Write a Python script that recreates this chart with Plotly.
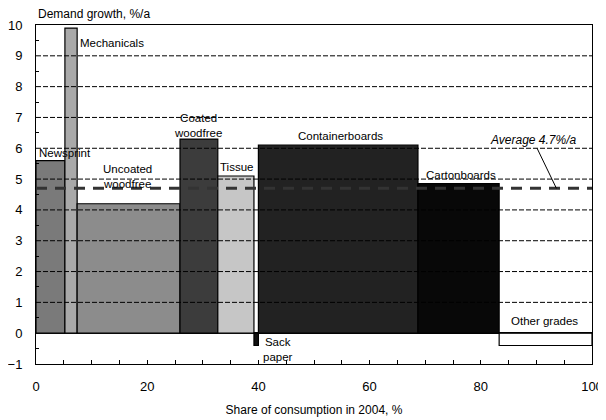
import numpy as np
import plotly.graph_objects as go

# paper & board grades: share of consumption 2004 (%) and demand growth (%/a)
grades = ['Newsprint', 'Mechanicals', 'Uncoated woodfree', 'Coated woodfree', 'Tissue',
          'Sack paper', 'Containerboards', 'Cartonboards', 'Other grades']
share = [5.2, 2.2, 18.5, 6.8, 6.5, 0.8, 28.7, 14.6, 16.7]
growth = [5.6, 9.9, 4.2, 6.3, 5.1, -0.4, 6.1, 4.85, -0.4]
average = 4.7
grid_vals = [1, 2, 3, 4, 5, 6, 7, 8, 9]
colors = ['#7a7a7a', '#a9a9a9', '#8c8c8c', '#3c3c3c', '#c6c6c6',
          '#111111', '#222222', '#080808', '#ffffff']

share_arr = np.array(share)
left = np.cumsum(share_arr) - share_arr
mid = left + share_arr / 2

font = dict(family='Liberation Sans, Arial, sans-serif', color='black')

fig = go.Figure()
fig.add_trace(go.Bar(x=mid, y=growth, width=share, marker=dict(color=colors, line=dict(color='black', width=1.2)),
                     hoverinfo='skip', showlegend=False))

# dashed grid lines drawn over the bars
shapes = [dict(type='line', xref='paper', x0=0, x1=1, yref='y', y0=g, y1=g, layer='above',
               line=dict(color='black', width=1, dash='5px,2px')) for g in grid_vals]
# average line
shapes.append(dict(type='line', xref='paper', x0=0, x1=1, yref='y', y0=average, y1=average, layer='above',
                   line=dict(color='#333333', width=3, dash='11px,8px')))

labels = [
    ('Newsprint', 0.2, 5.85, 'left'),
    ('Mechanicals', 7.5, 9.42, 'left'),
    ('Uncoated<br>woodfree', 16.4, 5.08, 'center'),
    ('Coated<br>woodfree', 29.1, 6.75, 'center'),
    ('Tissue', 36.0, 5.39, 'center'),
    ('Sack<br>paper', 40.4, -0.52, 'left'),
    ('Containerboards', 54.7, 6.4, 'center'),
    ('Cartonboards', 76.4, 5.13, 'center'),
    ('Other grades', 91.5, 0.39, 'center'),
]
annotations = [dict(text=t, x=x, y=y, xref='x', yref='y', xanchor=a, yanchor='middle', showarrow=False,
                    font=dict(size=11.5, **font), align='center') for t, x, y, a in labels]
annotations.append(dict(text='<i>Average 4.7%/a</i>', x=93.6, y=average, ax=89.4, ay=6.27, xref='x', yref='y',
                        axref='x', ayref='y', showarrow=True, arrowhead=0, arrowwidth=1, arrowcolor='black',
                        font=dict(size=12, **font)))
annotations.append(dict(text='Demand growth, %/a', x=0, y=1, xref='paper', yref='paper', xanchor='left',
                        yanchor='bottom', showarrow=False, yshift=2, font=dict(size=12, **font)))

# page body has an 8px margin, so the figure is drawn 8px smaller to fit the window
fig.update_layout(
    width=598, height=412,
    margin=dict(l=28, r=14, t=17, b=56, autoexpand=False),
    plot_bgcolor='white', paper_bgcolor='white',
    shapes=shapes, annotations=annotations,
    font=dict(size=13, **font),
    xaxis=dict(range=[0, 100], tickvals=[0, 20, 40, 60, 80, 100], ticks='inside', ticklen=4, tickcolor='black',
               minor=dict(dtick=5, tick0=0, ticks='inside', ticklen=4, tickcolor='black'),
               showgrid=False, zeroline=False, showline=True, linecolor='black', linewidth=1, mirror=True,
               ticklabelstandoff=10, automargin=False,
               title=dict(text='Share of consumption in 2004, %', font=dict(size=12, **font), standoff=13)),
    yaxis=dict(range=[-1, 10], dtick=1, ticks='inside', ticklen=0, tickcolor='black',
               minor=dict(dtick=0.5, tick0=0, ticks='inside', ticklen=3, tickcolor='black'),
               showgrid=False, zeroline=True, zerolinecolor='black', zerolinewidth=1.5, automargin=False,
               showline=True, linecolor='black', linewidth=1, mirror=True, ticklabelstandoff=10),
)

fig.write_html('out.html')
